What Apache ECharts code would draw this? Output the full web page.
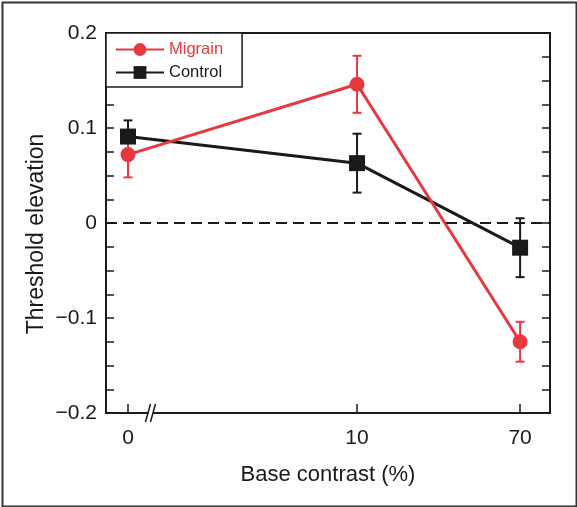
<!DOCTYPE html>
<html>
<head>
<meta charset="utf-8">
<script src="https://cdn.jsdelivr.net/npm/echarts@6/dist/echarts.min.js"></script>
<style>
html,body{margin:0;padding:0;background:#fff;}
#chart{width:577px;height:507px;}
</style>
</head>
<body>
<div id="chart"></div>
<script>
// ---- data ----
const contrastLabels = ['0', '10', '70'];
// plotting positions on the (broken) log contrast axis; "0" sits left of the break
const contrastPositions = [0.65, 10, 70];
const migraineMean = [0.072, 0.146, -0.125];
const migraineSem = [0.024, 0.030, 0.021];
const controlMean = [0.091, 0.063, -0.026];
const controlSem = [0.017, 0.031, 0.031];
const yTicks = [-0.2, -0.1, 0, 0.1, 0.2];
const yTickLabels = ['\u22120.2', '\u22120.1', '0', '0.1', '0.2'];
const breakPosition = 0.85;

const RED = '#e8383e';
const BLACK = '#1a1a1a';
const FONT = 'Liberation Sans, Arial, Helvetica, sans-serif';

const chart = echarts.init(document.getElementById('chart'), null, {renderer: 'canvas'});

function pts(means) { return means.map((m, i) => [contrastPositions[i], m]); }
function errs(means, sems) { return means.map((m, i) => [contrastPositions[i], m - sems[i], m + sems[i]]); }

function errRender(color) {
  return function (params, api) {
    const x = api.value(0);
    const lo = api.coord([x, api.value(1)]);
    const hi = api.coord([x, api.value(2)]);
    const w = 4.5;
    const st = {stroke: color, lineWidth: 2};
    return {type: 'group', children: [
      {type: 'line', shape: {x1: hi[0], y1: hi[1], x2: lo[0], y2: lo[1]}, style: st},
      {type: 'line', shape: {x1: hi[0] - w, y1: hi[1], x2: hi[0] + w, y2: hi[1]}, style: st},
      {type: 'line', shape: {x1: lo[0] - w, y1: lo[1], x2: lo[0] + w, y2: lo[1]}, style: st}
    ]};
  };
}

function labelFor(v) {
  let best = 0, bd = Infinity;
  contrastPositions.forEach((p, i) => {
    const d = Math.abs(Math.log(v) - Math.log(p));
    if (d < bd) { bd = d; best = i; }
  });
  return contrastLabels[best];
}

const yLabelMap = {};
yTicks.forEach((t, i) => { yLabelMap[t.toFixed(1)] = yTickLabels[i]; });

const yCommon = {
  type: 'value', min: -0.2, max: 0.2, interval: 0.1,
  splitLine: {show: false},
  axisLine: {show: true, onZero: false, lineStyle: {color: BLACK, width: 2}},
  axisTick: {show: true, inside: true, length: 8, lineStyle: {color: BLACK, width: 1.5}},
  minorTick: {show: true, splitNumber: 4, length: 8, lineStyle: {color: BLACK, width: 1.5}}
};

const option = {
  animation: false,
  backgroundColor: '#fff',
  textStyle: {fontFamily: FONT},
  graphic: [{
    type: 'rect', left: 0, top: 0, z: 100,
    shape: {x: 1, y: 1, width: 574, height: 504},
    style: {fill: 'none', stroke: '#333', lineWidth: 2}
  }],
  grid: {left: 106, right: 27, top: 33, bottom: 94, show: true, borderColor: BLACK, borderWidth: 2, backgroundColor: 'transparent'},
  legend: {
    orient: 'vertical', left: 106, top: 33,
    padding: [8, 19, 6, 9], itemGap: 6,
    itemWidth: 48, itemHeight: 16,
    borderColor: BLACK, borderWidth: 1.5, backgroundColor: '#fff',
    textStyle: {fontSize: 16.5, fontFamily: FONT},
    data: [
      {name: 'Migrain', textStyle: {color: RED}},
      {name: 'Control', textStyle: {color: BLACK}}
    ]
  },
  xAxis: {
    type: 'log', logBase: 10, min: 0.5, max: 100,
    splitLine: {show: false},
    axisLine: {show: true, onZero: false, lineStyle: {color: BLACK, width: 2}},
    axisTick: {show: true, inside: true, length: 9, customValues: contrastPositions, lineStyle: {color: BLACK, width: 1.5}},
    minorTick: {show: false},
    axisLabel: {customValues: contrastPositions, formatter: labelFor, fontSize: 21, color: BLACK, margin: 15, fontFamily: FONT},
    name: 'Base contrast (%)', nameLocation: 'middle', nameGap: 51, nameMoveOverlap: false,
    nameTextStyle: {fontSize: 22, color: BLACK, fontFamily: FONT}
  },
  yAxis: [
    Object.assign({}, yCommon, {
      position: 'left',
      axisLabel: {fontSize: 21, color: BLACK, margin: 9, fontFamily: FONT, formatter: v => yLabelMap[v.toFixed(1)]},
      name: 'Threshold elevation', nameLocation: 'middle', nameGap: 58, nameMoveOverlap: false,
      nameTextStyle: {fontSize: 23, color: BLACK, fontFamily: FONT, padding: [0, 22, 0, 0]}
    }),
    Object.assign({}, yCommon, {position: 'right', axisLabel: {show: false}})
  ],
  series: [
    {
      name: 'Control', type: 'line', data: pts(controlMean), z: 3,
      symbol: 'rect', symbolSize: 16,
      lineStyle: {color: BLACK, width: 3},
      itemStyle: {color: BLACK},
      markLine: {
        silent: true, symbol: 'none', label: {show: false},
        lineStyle: {color: BLACK, width: 2, type: [11, 6]},
        data: [{yAxis: 0}]
      }
    },
    {
      name: 'Migrain', type: 'line', data: pts(migraineMean), z: 4,
      symbol: 'circle', symbolSize: 15,
      lineStyle: {color: RED, width: 3},
      itemStyle: {color: RED}
    },
    {
      type: 'custom', name: 'ctrlErr', data: errs(controlMean, controlSem), z: 2,
      renderItem: errRender(BLACK), encode: {x: 0, y: [1, 2]}
    },
    {
      type: 'custom', name: 'migErr', data: errs(migraineMean, migraineSem), z: 2,
      renderItem: errRender(RED), encode: {x: 0, y: [1, 2]}
    },
    {
      type: 'custom', name: 'break', data: [[breakPosition, -0.2]], z: 10, clip: false,
      renderItem: function (params, api) {
        const p = api.coord([api.value(0), api.value(1)]);
        const st = {stroke: BLACK, lineWidth: 1.5};
        return {type: 'group', children: [
          {type: 'rect', shape: {x: p[0] - 2, y: p[1] - 2, width: 5, height: 4}, style: {fill: '#fff'}},
          {type: 'line', shape: {x1: p[0] - 5, y1: p[1] + 9, x2: p[0], y2: p[1] - 9}, style: st},
          {type: 'line', shape: {x1: p[0], y1: p[1] + 9, x2: p[0] + 5, y2: p[1] - 9}, style: st}
        ]};
      }
    }
  ]
};
chart.setOption(option);
</script>
</body>
</html>
